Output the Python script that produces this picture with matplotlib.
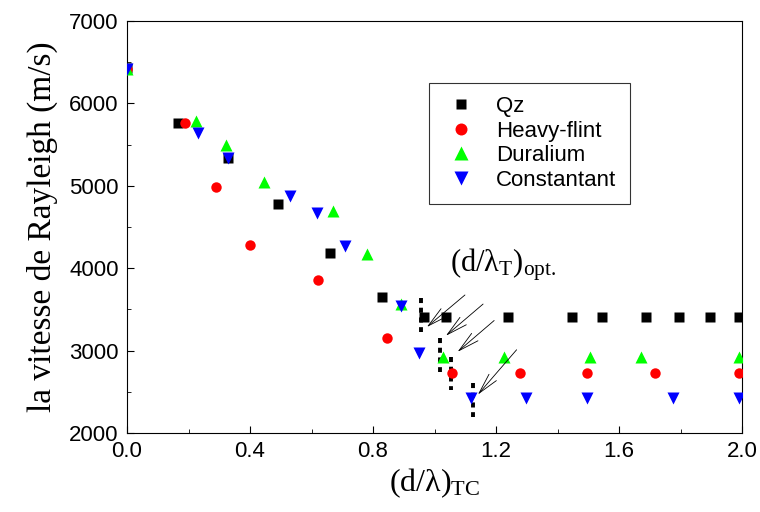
import matplotlib.pyplot as plt
from matplotlib.ticker import MultipleLocator

# Rayleigh velocity vs normalised thickness
qz_x = [0.0, 0.166, 0.33, 0.49, 0.66, 0.83, 0.966, 1.037, 1.24, 1.447, 1.545, 1.688, 1.795, 1.896, 1.99]
qz_y = [6430, 5760, 5340, 4780, 4190, 3650, 3410, 3410, 3410, 3410, 3410, 3410, 3410, 3410, 3410]

hf_x = [0.0, 0.19, 0.29, 0.40, 0.62, 0.846, 1.057, 1.278, 1.496, 1.717, 1.99]
hf_y = [6420, 5760, 4990, 4280, 3860, 3153, 2730, 2730, 2730, 2730, 2730]

du_x = [0.0, 0.224, 0.321, 0.446, 0.669, 0.779, 0.89, 1.028, 1.226, 1.506, 1.672, 1.99]
du_y = [6420, 5790, 5500, 5050, 4694, 4172, 3566, 2922, 2922, 2922, 2922, 2922]

co_x = [0.0, 0.23, 0.329, 0.53, 0.619, 0.709, 0.89, 0.95, 1.118, 1.298, 1.496, 1.776, 1.99]
co_y = [6420, 5640, 5337, 4876, 4674, 4273, 3541, 2971, 2430, 2430, 2430, 2430, 2430]

# dotted markers for the optimum thickness
opt_x = [0.955, 1.018, 1.053, 1.124]
opt_top = [3640, 3153, 2922, 2607]
opt_bot = [3226, 2740, 2522, 2194]

# arrows: (tail x, tail y, head x, head y)
arrows = [(1.099, 3675, 0.975, 3286),
          (1.158, 3565, 1.037, 3180),
          (1.194, 3365, 1.075, 2985),
          (1.267, 3010, 1.141, 2466)]

plt.rcParams['font.family'] = ['Liberation Sans', 'DejaVu Sans']

fig = plt.figure(figsize=(7.6, 5.12), dpi=100)
ax = fig.add_axes([127/760, 1 - 433/512, 615/760, 412/512])

ax.plot(qz_x, qz_y, 's', color='black', ms=6.5, mec='none', label='Qz', zorder=3)
ax.plot(hf_x, hf_y, 'o', color='red', ms=7.5, mec='none', label='Heavy-flint', zorder=3)
ax.plot(du_x, du_y, '^', color='#00ff00', ms=8.5, mec='none', label='Duralium', zorder=3)
ax.plot(co_x, co_y, 'v', color='blue', ms=8.5, mec='none', label='Constantant', zorder=4)

for x, y0, y1 in zip(opt_x, opt_top, opt_bot):
    ax.plot([x, x], [y0, y1], color='black', lw=2.8, ls=(0, (1.3, 1.2)), zorder=2)

for tx, ty, hx, hy in arrows:
    ax.annotate('', xy=(hx, hy), xytext=(tx, ty),
                arrowprops=dict(arrowstyle='->,head_length=1.5,head_width=0.35',
                                lw=0.6, color='black', shrinkA=0, shrinkB=0))

ax.text(1.05, 3955, r'$\mathregular{(d/\lambda_T)_{opt.}}$', fontsize=22,
        family='Liberation Serif')

ax.set_xlim(0, 2.0)
ax.set_ylim(2000, 7000)
ax.xaxis.set_major_locator(MultipleLocator(0.4))
ax.xaxis.set_minor_locator(MultipleLocator(0.2))
ax.yaxis.set_major_locator(MultipleLocator(1000))
ax.yaxis.set_minor_locator(MultipleLocator(500))
ax.xaxis.set_major_formatter(plt.FormatStrFormatter('%.1f'))
ax.tick_params(which='both', direction='in', top=False, right=False, labelsize=16, pad=6)
ax.tick_params(which='major', length=5)
ax.tick_params(which='minor', length=3)

ax.set_xlabel(r'$\mathregular{(d/\lambda)_{TC}}$', fontsize=23, family='Liberation Serif', labelpad=3)
ax.set_ylabel('la vitesse de Rayleigh (m/s)', fontsize=24, family='Liberation Serif', labelpad=8)

leg = ax.legend(loc='upper left', bbox_to_anchor=(0.491, 0.850), borderaxespad=0,
                fontsize=16, frameon=True, fancybox=False, handletextpad=0.72,
                labelspacing=0.16, borderpad=0.6, handlelength=1.7, markerscale=1.15)
leg.get_frame().set_edgecolor('black')
leg.get_frame().set_linewidth(0.8)

fig.savefig('out.png', dpi=100)
